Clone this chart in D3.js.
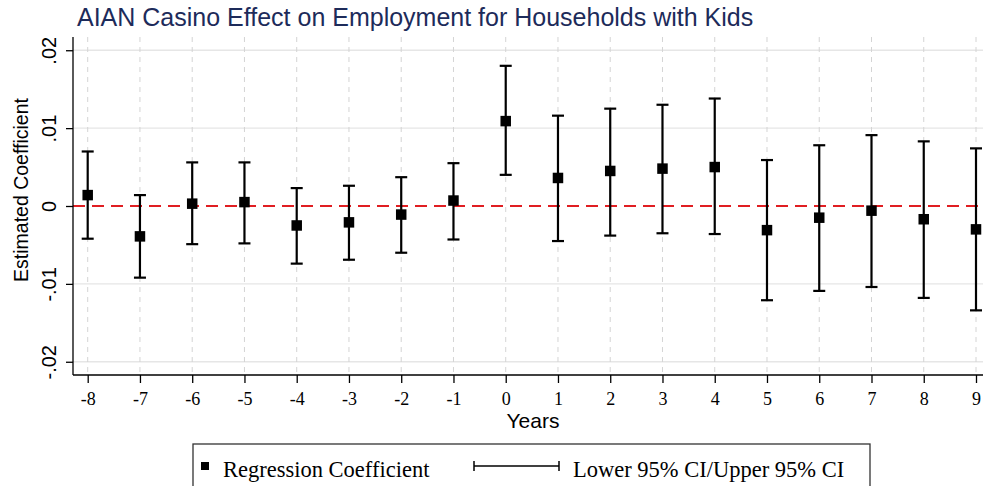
<!DOCTYPE html>
<html>
<head>
<meta charset="utf-8">
<script src="https://cdn.jsdelivr.net/npm/d3@7"></script>
<style>
  html, body { margin: 0; padding: 0; background: #fff; }
  svg { display: block; }
</style>
</head>
<body>
<svg id="chart" width="983" height="486"></svg>
<script>
// Event-study estimates: years relative to casino opening
const years = [-8, -7, -6, -5, -4, -3, -2, -1, 0, 1, 2, 3, 4, 5, 6, 7, 8, 9];
const coefficient = [0.0014, -0.0039, 0.0003, 0.0005, -0.0025, -0.0021, -0.0011, 0.0007,
                     0.0109, 0.0036, 0.0045, 0.0048, 0.0050, -0.0031, -0.0015, -0.0006, -0.0017, -0.0030];
const ciLower = [-0.0042, -0.0092, -0.0049, -0.0048, -0.0074, -0.0069, -0.0060, -0.0043,
                 0.0040, -0.0045, -0.0038, -0.0035, -0.0036, -0.0121, -0.0109, -0.0104, -0.0118, -0.0134];
const ciUpper = [0.0070, 0.0014, 0.0056, 0.0056, 0.0023, 0.0026, 0.0037, 0.0055,
                 0.0180, 0.0116, 0.0125, 0.0130, 0.0138, 0.0059, 0.0078, 0.0091, 0.0083, 0.0074];
const yTicks = [0.02, 0.01, 0, -0.01, -0.02];
const yTickLabels = [".02", ".01", "0", "-.01", "-.02"];

const svg = d3.select("#chart");
const plot = { left: 73, right: 983, top: 37, bottom: 375 };

const x = d3.scaleLinear().domain([-8, 9]).range([87.7, 976]);
const y = d3.scaleLinear().domain([-0.0217, 0.0217]).range([plot.bottom, plot.top]);

// Title
svg.append("text")
  .attr("x", 77).attr("y", 26)
  .attr("font-family", "Liberation Sans, Arial, sans-serif")
  .attr("font-size", 25)
  .attr("fill", "#1d2b5a")
  .text("AIAN Casino Effect on Employment for Households with Kids");

// Horizontal gridlines
svg.append("g").selectAll("line")
  .data(yTicks.filter(d => d !== 0))
  .join("line")
  .attr("x1", plot.left).attr("x2", plot.right)
  .attr("y1", d => y(d)).attr("y2", d => y(d))
  .attr("stroke", "#e6e6e6").attr("stroke-width", 1.3);

// Vertical dashed gridlines
svg.append("g").selectAll("line")
  .data(years)
  .join("line")
  .attr("x1", d => x(d)).attr("x2", d => x(d))
  .attr("y1", plot.top).attr("y2", plot.bottom)
  .attr("stroke", "#d4d4d4").attr("stroke-width", 1)
  .attr("stroke-dasharray", "5,5");

// Zero reference line
svg.append("line")
  .attr("x1", plot.left).attr("x2", plot.right)
  .attr("y1", y(0)).attr("y2", y(0))
  .attr("stroke", "#e01e22").attr("stroke-width", 2)
  .attr("stroke-dasharray", "12,7");

// Y axis
const yAxis = d3.axisLeft(y).tickValues(yTicks).tickSize(7)
  .tickFormat((d, i) => yTickLabels[i]);
const gy = svg.append("g").attr("transform", `translate(${plot.left},0)`).call(yAxis);
gy.select(".domain").remove();
gy.selectAll(".tick line").attr("stroke", "#000").attr("stroke-width", 1.3);
gy.selectAll(".tick text")
  .attr("font-family", "Liberation Sans, Arial, sans-serif")
  .attr("font-size", 20)
  .attr("fill", "#000")
  .attr("text-anchor", "middle")
  .attr("transform", "rotate(-90)")
  .attr("x", 0).attr("y", -17)
  .attr("dy", 0);

svg.append("line")
  .attr("x1", plot.left).attr("x2", plot.left)
  .attr("y1", plot.top).attr("y2", plot.bottom)
  .attr("stroke", "#000").attr("stroke-width", 1.3);

// X axis
const xAxis = d3.axisBottom(x).tickValues(years).tickSize(8).tickFormat(d3.format("d"));
const gx = svg.append("g").attr("transform", `translate(0,${plot.bottom})`).call(xAxis);
gx.select(".domain").remove();
gx.selectAll(".tick line").attr("stroke", "#000").attr("stroke-width", 1.3);
gx.selectAll(".tick text")
  .attr("font-family", "Liberation Serif, Times New Roman, serif")
  .attr("font-size", 18)
  .attr("fill", "#000")
  .attr("y", 29.5).attr("dy", 0)
  .text(d => d < 0 ? "-" + Math.abs(d) : String(d));

svg.append("line")
  .attr("x1", plot.left).attr("x2", plot.right)
  .attr("y1", plot.bottom).attr("y2", plot.bottom)
  .attr("stroke", "#000").attr("stroke-width", 1.3);

// Axis titles
svg.append("text")
  .attr("x", 533).attr("y", 428)
  .attr("text-anchor", "middle")
  .attr("font-family", "Liberation Sans, Arial, sans-serif")
  .attr("font-size", 21)
  .attr("fill", "#000")
  .text("Years");

svg.append("text")
  .attr("transform", `translate(28,190) rotate(-90)`)
  .attr("text-anchor", "middle")
  .attr("font-family", "Liberation Sans, Arial, sans-serif")
  .attr("font-size", 19.5)
  .attr("fill", "#000")
  .text("Estimated Coefficient");

// Confidence intervals
const capHalf = 6;
const bars = svg.append("g").attr("stroke", "#000").attr("stroke-width", 2.2);
years.forEach((yr, i) => {
  const cx = x(yr);
  bars.append("line").attr("x1", cx).attr("x2", cx)
    .attr("y1", y(ciLower[i])).attr("y2", y(ciUpper[i]));
  bars.append("line").attr("x1", cx - capHalf).attr("x2", cx + capHalf)
    .attr("y1", y(ciUpper[i])).attr("y2", y(ciUpper[i]));
  bars.append("line").attr("x1", cx - capHalf).attr("x2", cx + capHalf)
    .attr("y1", y(ciLower[i])).attr("y2", y(ciLower[i]));
});

// Point estimates
const sq = 10.5;
svg.append("g").selectAll("rect")
  .data(years)
  .join("rect")
  .attr("x", d => x(d) - sq / 2)
  .attr("y", (d, i) => y(coefficient[i]) - sq / 2)
  .attr("width", sq).attr("height", sq)
  .attr("fill", "#000");

// Legend
const lg = svg.append("g");
lg.append("rect")
  .attr("x", 193).attr("y", 444).attr("width", 677).attr("height", 60)
  .attr("fill", "#fff").attr("stroke", "#333").attr("stroke-width", 1.3);
lg.append("rect")
  .attr("x", 201).attr("y", 462).attr("width", 8).attr("height", 8)
  .attr("fill", "#000");
lg.append("text")
  .attr("x", 223).attr("y", 476.5)
  .attr("font-family", "Liberation Serif, Times New Roman, serif")
  .attr("font-size", 22.5)
  .attr("fill", "#000")
  .text("Regression Coefficient");
lg.append("line").attr("x1", 474).attr("x2", 559).attr("y1", 466).attr("y2", 466)
  .attr("stroke", "#000").attr("stroke-width", 1.5);
lg.append("line").attr("x1", 474).attr("x2", 474).attr("y1", 461).attr("y2", 471)
  .attr("stroke", "#000").attr("stroke-width", 1.5);
lg.append("line").attr("x1", 559).attr("x2", 559).attr("y1", 461).attr("y2", 471)
  .attr("stroke", "#000").attr("stroke-width", 1.5);
lg.append("text")
  .attr("x", 573).attr("y", 476.5)
  .attr("font-family", "Liberation Serif, Times New Roman, serif")
  .attr("font-size", 22.5)
  .attr("fill", "#000")
  .text("Lower 95% CI/Upper 95% CI");
</script>
</body>
</html>
